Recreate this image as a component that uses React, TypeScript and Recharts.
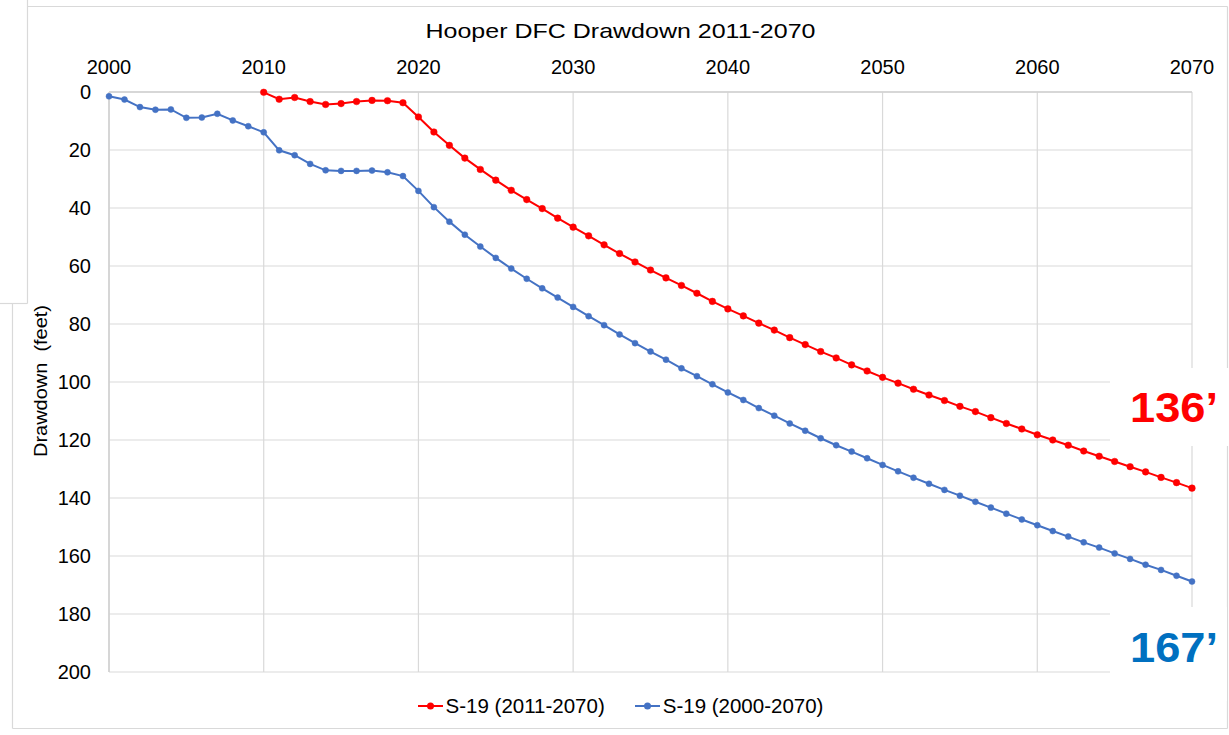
import { CartesianGrid, Legend, Line, LineChart, XAxis, YAxis } from 'recharts'

const FIRST_YEAR = 2000
const RED_START = 2010

// drawdown (feet), one value per year
const S19_2000_2070 = [
  1.5, 2.6, 5.2, 6.1, 6.0, 8.9, 8.8, 7.5, 9.8, 11.8,
  13.9, 20.1, 21.8, 24.8, 27.0, 27.2, 27.2, 27.1, 27.7, 29.0,
  34.1, 39.7, 44.7, 49.2, 53.3, 57.2, 60.9, 64.4, 67.7, 70.9,
  74.1, 77.3, 80.4, 83.6, 86.6, 89.5, 92.3, 95.3, 98.0, 100.8,
  103.6, 106.2, 109.0, 111.6, 114.3, 116.8, 119.4, 121.8, 124.0, 126.3,
  128.6, 130.8, 133.0, 135.1, 137.2, 139.2, 141.3, 143.3, 145.4, 147.4,
  149.4, 151.4, 153.3, 155.3, 157.1, 159.1, 161.0, 163.0, 164.8, 166.8,
  168.8,
]

const S19_2011_2070 = [
  0.1, 2.5, 1.9, 3.3, 4.3, 4.0, 3.3, 2.9, 3.0, 3.7,
  8.6, 13.8, 18.4, 22.8, 26.7, 30.4, 33.9, 37.1, 40.2, 43.5,
  46.6, 49.6, 52.7, 55.7, 58.6, 61.4, 64.1, 66.7, 69.4, 72.2,
  74.8, 77.2, 79.7, 82.1, 84.7, 87.1, 89.5, 91.7, 94.1, 96.2,
  98.4, 100.4, 102.5, 104.5, 106.4, 108.4, 110.2, 112.3, 114.3, 116.2,
  118.2, 120.0, 121.8, 123.8, 125.6, 127.4, 129.2, 131.0, 132.9, 134.7,
  136.6,
]

const X_TICKS = [2000, 2010, 2020, 2030, 2040, 2050, 2060, 2070]
const Y_TICKS = [0, 20, 40, 60, 80, 100, 120, 140, 160, 180, 200]

const RED = '#FF0000'
const BLUE = '#4472C4'
const GRID = '#D9D9D9'
const FONT = 'Arial, "Liberation Sans", sans-serif'

const data = S19_2000_2070.map((blue, i) => {
  const year = FIRST_YEAR + i
  const r = year - RED_START
  return { year, blue, red: r >= 0 ? S19_2011_2070[r] : null }
})

function LegendContent() {
  const items = [
    { label: 'S-19 (2011-2070)', color: RED },
    { label: 'S-19 (2000-2070)', color: BLUE },
  ]
  return (
    <div style={{ height: 24, display: 'flex', justifyContent: 'center', paddingLeft: 12, fontFamily: FONT }}>
      {items.map((it, i) => (
        <div key={it.label} style={{ display: 'flex', alignItems: 'center', marginRight: i === 0 ? 30 : 0 }}>
          <svg width={26} height={24}>
            <line x1={0} y1={12} x2={25} y2={12} stroke={it.color} strokeWidth={2} />
            <circle cx={12.5} cy={12} r={3.5} fill={it.color} />
          </svg>
          <span style={{ fontSize: 20.5, marginLeft: 2, color: '#000' }}>{it.label}</span>
        </div>
      ))}
    </div>
  )
}

export default function App() {
  return (
    <div style={{ position: 'absolute', left: 0, top: 0, width: 1229, height: 735, background: '#fff' }}>
      <LineChart width={1229} height={735} data={data} margin={{ top: 62, right: 37, left: 0, bottom: 39 }}>
        <CartesianGrid stroke={GRID} strokeWidth={1.2} />
        <XAxis
          dataKey="year"
          type="number"
          orientation="top"
          domain={[2000, 2070]}
          ticks={X_TICKS}
          interval={0}
          height={30}
          axisLine={{ stroke: '#D0D0D0', strokeWidth: 1.5 }}
          tickLine={false}
          tickMargin={12}
          tick={{ fontSize: 20, fill: '#000', fontFamily: FONT }}
        />
        <YAxis
          type="number"
          reversed
          domain={[0, 200]}
          ticks={Y_TICKS}
          interval={0}
          width={109}
          axisLine={{ stroke: '#D0D0D0', strokeWidth: 1.5 }}
          tickLine={false}
          tickMargin={12}
          tick={{ fontSize: 20, fill: '#000', fontFamily: FONT }}
        />
        <Legend
          verticalAlign="bottom"
          content={<LegendContent />}
          wrapperStyle={{ top: 694, left: 0, width: 1229, height: 24 }}
        />
        <Line
          dataKey="red"
          name="S-19 (2011-2070)"
          stroke={RED}
          strokeWidth={2}
          dot={{ r: 3.3, fill: RED, stroke: RED, strokeWidth: 0.5 }}
          isAnimationActive={false}
        />
        <Line
          dataKey="blue"
          name="S-19 (2000-2070)"
          stroke={BLUE}
          strokeWidth={2}
          dot={{ r: 3, fill: BLUE, stroke: BLUE, strokeWidth: 0.5 }}
          isAnimationActive={false}
        />
      </LineChart>
      <svg width={1229} height={735} style={{ position: 'absolute', left: 0, top: 0, pointerEvents: 'none' }}>
        {/* frame pieces */}
        <g stroke={GRID} strokeWidth={1.2} fill="none">
          <line x1={27.5} y1={0} x2={27.5} y2={303.5} />
          <line x1={0} y1={303.5} x2={27.5} y2={303.5} />
          <line x1={27.5} y1={6.5} x2={1227.5} y2={6.5} />
          <line x1={1227.5} y1={6.5} x2={1227.5} y2={728.5} />
          <line x1={12.5} y1={303.5} x2={12.5} y2={728.5} />
          <line x1={12.5} y1={728.5} x2={1227.5} y2={728.5} />
        </g>
        <text x={620.5} y={38} textAnchor="middle" fontFamily={FONT} fontSize={21} fill="#000" textLength={390} lengthAdjust="spacingAndGlyphs">
          Hooper DFC Drawdown 2011-2070
        </text>
        <text transform="translate(47,381) rotate(-90)" textAnchor="middle" fontFamily={FONT} fontSize={18} fill="#000" textLength={152} lengthAdjust="spacingAndGlyphs">
          {'Drawdown\u00a0 (feet)'}
        </text>
        <rect x={1110} y={368} width={119} height={78} fill="#fff" />
        <rect x={1110} y={607} width={117} height={94} fill="#fff" />
        <text x={1130} y={421.5} fontFamily={FONT} fontSize={43} fontWeight="bold" fill={RED} textLength={88} lengthAdjust="spacingAndGlyphs">
          136’
        </text>
        <text x={1130} y={661.5} fontFamily={FONT} fontSize={43} fontWeight="bold" fill="#0070C0" textLength={88} lengthAdjust="spacingAndGlyphs">
          167’
        </text>
      </svg>
    </div>
  )
}
